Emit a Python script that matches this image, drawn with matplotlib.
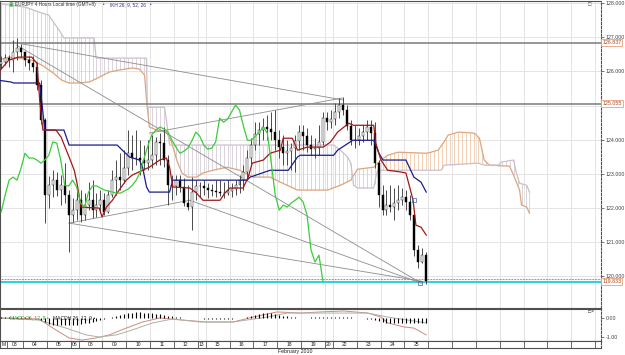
import matplotlib
matplotlib.use('Agg')
import numpy as np
import matplotlib.pyplot as plt
from matplotlib.patches import Rectangle

plt.rcParams['font.family'] = ['Liberation Sans', 'DejaVu Sans']

# ---- данные: 4-часовые бары EURJPY ----
first_open = 126.21
closes = [126.27, 126.39, 126.33, 126.56, 126.68, 126.56, 126.33, 126.24, 126.13, 125.60,
          124.57, 122.37, 122.66, 122.81, 122.52, 122.66, 122.37, 121.79, 121.93, 122.22,
          121.79, 122.08, 122.22, 121.93, 122.08, 122.22, 121.87, 122.37, 122.81, 122.90,
          122.81, 123.16, 123.60, 123.46, 123.46, 123.40, 123.31, 123.40, 123.54, 123.93,
          123.90, 123.40, 122.66, 122.64, 122.81, 122.61, 122.14, 122.02, 122.46, 122.64,
          122.64, 122.58, 122.52, 122.49, 122.46, 122.43, 122.43, 122.49, 122.55, 122.66,
          122.81, 123.05, 123.46, 123.84, 124.16, 124.28, 124.37, 124.31, 124.22, 123.98,
          123.78, 123.60, 123.66, 123.75, 123.96, 124.22, 124.10, 123.84, 123.72, 123.75,
          123.93, 124.63, 124.51, 124.60, 124.81, 125.01, 124.87, 124.39, 123.98, 123.98,
          124.10, 124.22, 124.37, 124.19, 123.31, 122.37, 121.93, 122.08, 122.02, 122.14,
          122.22, 122.31, 122.17, 121.79, 120.76, 120.41, 120.61, 119.85]
highs = [126.45, 126.51, 126.48, 126.92, 126.98, 126.80, 126.56, 126.45, 126.45, 126.27,
         125.74, 124.63, 122.93, 123.10, 123.05, 122.96, 123.31, 122.52, 122.28, 122.61,
         122.52, 122.43, 122.75, 122.81, 122.43, 122.52, 122.43, 122.52, 123.10, 123.40,
         123.60, 123.69, 124.28, 124.13, 124.28, 123.98, 123.84, 123.98, 124.13, 124.07,
         124.19, 124.37, 123.54, 122.96, 122.96, 122.96, 122.87, 122.66, 122.90, 122.81,
         122.75, 122.81, 122.72, 122.69, 122.81, 122.81, 122.75, 122.81, 122.72, 122.81,
         122.96, 123.25, 123.69, 124.04, 124.51, 124.51, 124.63, 124.72, 124.80, 124.86,
         124.28, 124.13, 123.98, 123.90, 124.13, 124.42, 124.42, 124.34, 124.13, 124.04,
         124.42, 124.80, 124.80, 124.86, 125.07, 125.22, 125.25, 125.01, 124.57, 124.42,
         124.34, 124.42, 124.57, 124.57, 124.51, 123.40, 122.66, 122.52, 122.66, 122.58,
         122.66, 122.58, 122.52, 122.37, 121.93, 120.90, 120.82, 120.70]
lows = [126.10, 126.18, 126.13, 125.98, 126.33, 126.42, 126.15, 126.04, 125.98, 125.45,
        124.45, 121.55, 121.99, 122.31, 122.34, 122.08, 122.14, 120.70, 121.58, 121.64,
        121.58, 121.64, 121.93, 121.70, 121.73, 121.84, 121.79, 121.84, 122.31, 122.37,
        122.52, 122.72, 122.96, 123.10, 123.25, 122.96, 123.10, 123.10, 123.16, 123.25,
        123.25, 123.19, 122.08, 122.22, 122.37, 122.46, 122.05, 121.93, 121.35, 122.22,
        122.31, 122.37, 122.28, 122.34, 122.31, 122.34, 122.28, 122.37, 122.31, 122.37,
        122.43, 122.52, 122.81, 123.25, 123.69, 123.84, 123.98, 123.98, 123.98, 123.69,
        123.46, 123.25, 123.25, 123.10, 123.05, 123.69, 123.69, 123.63, 123.54, 123.46,
        123.54, 123.84, 124.28, 124.34, 124.42, 124.63, 124.72, 124.28, 123.84, 123.75,
        123.84, 123.93, 123.98, 123.84, 123.16, 122.02, 121.79, 121.79, 121.87, 121.64,
        121.93, 122.08, 121.93, 121.64, 120.58, 120.23, 120.38, 119.76]

# Ишимоку: вершины линий (индекс бара, цена)
tenkan = [(-0.6, 125.98), (1.9, 126.33), (4.4, 126.42), (7.7, 126.42), (9.0, 126.24), (9.7, 125.16),
          (10.5, 124.28), (13.8, 124.28), (15.1, 124.07), (17.1, 123.49), (18.4, 123.10), (19.1, 122.72),
          (20.1, 122.02), (24.7, 121.99), (25.4, 121.73), (26.5, 122.02), (28.0, 122.22), (29.7, 122.52),
          (31.5, 122.81), (33.0, 122.96), (35.6, 123.10), (37.3, 123.19), (39.9, 123.40), (41.6, 123.46),
          (42.4, 123.19), (43.2, 122.61), (47.5, 122.58), (49.2, 122.43), (50.8, 122.22), (55.1, 122.22),
          (56.3, 122.43), (57.6, 122.58), (60.9, 122.58), (62.2, 122.90), (63.2, 123.31), (66.0, 123.40),
          (67.7, 123.60), (70.3, 123.69), (71.0, 124.04), (73.3, 124.04), (74.6, 123.69), (77.1, 123.78),
          (81.1, 123.78), (82.9, 123.93), (84.7, 124.22), (87.5, 124.48), (88.7, 124.42), (93.8, 124.42),
          (94.3, 123.90), (95.6, 123.40), (97.3, 123.10), (100.6, 123.05), (101.9, 123.02), (103.7, 122.22),
          (104.4, 121.49), (105.7, 121.43), (107.0, 121.20)]
kijun = [(-0.6, 125.74), (2.4, 125.69), (3.2, 125.66), (9.7, 125.66), (11.0, 124.28), (15.8, 124.28),
         (17.1, 123.84), (29.2, 123.84), (30.5, 123.69), (32.3, 123.49), (34.8, 123.40), (35.6, 123.19),
         (36.6, 122.61), (37.3, 122.46), (42.4, 122.46), (43.2, 122.81), (61.9, 122.81), (62.7, 122.90),
         (67.7, 123.10), (72.3, 123.10), (74.6, 123.49), (75.3, 123.54), (83.7, 123.54), (84.7, 123.69),
         (88.5, 123.98), (93.8, 123.98), (95.1, 123.60), (96.1, 123.40), (101.9, 123.40), (103.9, 122.90),
         (105.7, 122.75), (107.0, 122.46)]
senkou_a = [(-0.6, 126.33), (1.9, 126.42), (4.4, 126.39), (7.7, 126.33), (10.3, 126.18), (12.8, 125.98),
            (15.3, 125.74), (17.1, 125.66), (19.6, 125.66), (22.2, 125.69), (24.7, 125.83), (27.2, 125.98),
            (29.7, 126.04), (33.0, 126.10), (34.8, 126.07), (36.1, 125.89), (36.6, 125.16), (37.3, 124.37),
            (39.1, 124.28), (41.6, 124.22), (42.9, 123.93), (44.2, 123.40), (45.5, 123.02), (47.0, 122.90),
            (49.2, 122.90), (50.8, 123.02), (53.3, 123.10), (56.8, 123.19), (60.1, 123.10), (63.4, 122.90),
            (67.7, 122.90), (70.3, 122.75), (74.6, 122.52), (82.2, 122.52), (85.4, 122.66), (88.0, 122.81),
            (89.7, 123.13), (93.8, 123.19), (95.6, 123.40), (97.3, 123.54), (99.9, 123.63), (107.0, 123.60),
            (108.2, 123.63), (110.0, 123.69), (111.5, 123.93), (112.5, 124.13), (115.1, 124.22), (119.1, 124.19),
            (120.4, 124.04), (121.6, 123.40), (122.9, 123.25), (128.0, 123.22), (129.2, 122.90), (130.5, 122.52),
            (131.0, 122.08), (132.3, 122.02), (133.0, 121.84)]
senkou_b = [(-0.6, 127.99), (6.2, 127.88), (10.3, 127.71), (12.0, 127.65), (13.3, 127.42), (14.6, 127.21),
            (15.8, 126.98), (23.4, 126.98), (23.9, 126.39), (36.6, 126.39), (36.8, 124.95), (41.1, 124.95),
            (41.6, 124.57), (42.4, 123.84), (83.7, 123.84), (85.4, 123.69), (87.2, 123.49), (88.0, 123.31),
            (88.5, 122.90), (88.7, 122.66), (89.7, 122.58), (93.8, 122.58), (94.3, 122.90), (94.8, 123.10),
            (110.8, 123.10), (111.5, 123.25), (120.1, 123.31), (121.6, 123.25), (125.2, 123.25), (125.9, 123.34),
            (129.0, 123.40), (129.7, 123.02), (130.5, 122.72), (132.3, 122.66), (133.0, 122.46)]

# трендовые линии (индекс бара, цена)
trend_lines = [[(2.7, 126.86), (86.2, 125.16)],
               [(3.9, 126.77), (105.7, 119.79)],
               [(17.1, 121.55), (105.7, 119.85)],
               [(17.1, 121.55), (47.5, 122.22)],
               [(47.5, 122.22), (105.7, 119.79)],
               [(37.3, 124.19), (85.9, 125.22)]]
hlines = [126.837, 125.055]
bid = 119.833

# MACD
macd_hist = [0.05, 0.05, 0.05, 0.04, 0.04, 0.04, 0.03, 0.03, 0.02, 0.0,
             -0.1, -0.2, -0.3, -0.35, -0.37, -0.38, -0.38, -0.37, -0.36, -0.35,
             -0.32, -0.28, -0.24, -0.2, -0.16, -0.12, -0.06, -0.02, 0.05, 0.1,
             0.15, 0.2, 0.25, 0.28, 0.3, 0.3, 0.28, 0.26, 0.24, 0.22,
             0.2, 0.18, 0.12, 0.08, 0.05, 0.03, 0.02, 0.01, 0.0, -0.01,
             -0.02, -0.03, -0.04, -0.05, -0.05, -0.04, -0.04, -0.03, -0.03, -0.02,
             -0.01, 0.02, 0.06, 0.1, 0.15, 0.2, 0.25, 0.27, 0.25, 0.22,
             0.18, 0.12, 0.08, 0.05, 0.03, 0.02, 0.02, 0.02, 0.03, 0.04,
             0.05, 0.05, 0.04, 0.04, 0.05, 0.05, 0.04, 0.03, 0.03, 0.02,
             0.0, -0.02, -0.03, -0.05, -0.1, -0.18, -0.22, -0.25, -0.27, -0.27,
             -0.26, -0.25, -0.24, -0.24, -0.25, -0.25, -0.26, -0.27]
macd_main = [(-0.6, 0.0), (9.5, -0.05), (13.8, -0.63), (17.1, -1.05), (20.4, -1.16), (23.9, -1.05),
             (27.2, -0.89), (31.5, -0.53), (35.6, -0.21), (39.9, 0.0), (45.7, -0.11), (51.8, -0.21),
             (58.4, -0.21), (63.4, 0.05), (69.5, 0.32), (75.3, 0.26), (80.4, 0.32), (86.2, 0.37),
             (92.3, 0.26), (95.6, 0.05), (97.3, -0.26), (101.4, -0.47), (103.9, -0.53), (107.0, -0.89)]
macd_signal = [(-0.6, 0.0), (9.5, -0.11), (16.3, -0.53), (21.4, -0.89), (24.7, -1.0), (29.0, -0.89),
               (33.0, -0.63), (38.1, -0.26), (43.2, -0.05), (50.0, -0.21), (58.4, -0.21), (67.0, 0.05),
               (72.0, 0.26), (80.4, 0.26), (92.3, 0.26), (97.3, 0.05), (102.4, -0.11), (107.0, -0.26)]

# ось дат
day_labels = ['03', '04', '05', '06', '08', '09', '10', '11', '12', '13',
              '15', '16', '17', '18', '19', '20', '22', '23', '24', '25']
day_bars = [6, 6, 6, 2, 6, 6, 6, 6, 6, 2, 6, 6, 6, 6, 6, 2, 6, 6, 6, 6]
future_days = 8

# ---- построение ----
W, H = 625, 355
fig = plt.figure(figsize=(W / 100, H / 100), dpi=100)


def px_axes(x0, y0, x1, y1):
    return fig.add_axes([x0 / W, 1 - y1 / H, (x1 - x0) / W, (y1 - y0) / H])


ax = px_axes(0, 0.5, 601, 308)
ax_m = px_axes(0, 309, 601, 341)
ax_d = px_axes(0, 341, 601, 348)
XL = (-0.29, 151.0)
for a in (ax, ax_m, ax_d):
    a.set_xlim(*XL)
    a.set_xticks([])
    for s in a.spines.values():
        s.set_color('#505050')
        s.set_linewidth(0.8)
    a.spines['right'].set_linestyle((0, (2, 1.5)))

grid_c = '#e4e4e4'
starts = np.concatenate([[0], np.cumsum(day_bars + [6] * future_days)])
seps = starts[1:] - 0.5
for sx in seps:
    ax.axvline(sx, color=grid_c, lw=0.7, zorder=0)
    ax_m.axvline(sx, color=grid_c, lw=0.7, zorder=0)

ax.set_ylim(119.06, 128.08)
ticks = np.arange(120, 129)
for t in ticks:
    ax.axhline(t, color=grid_c, lw=0.7, zorder=0)
ax.yaxis.tick_right()
ax.set_yticks(ticks)
# метка 125.000 закрыта плашкой 125.055
ax.set_yticklabels(['' if t == 125 else '%.3f' % t for t in ticks])
ax.tick_params(axis='y', length=2.5, width=0.5, pad=1, labelsize=3.8, labelcolor='#404040', color='#404040')

# облако
n_all = len(closes) + 26
xs = np.arange(n_all)
ai, ap = zip(*senkou_a)
bi, bp = zip(*senkou_b)
A = np.interp(xs, ai, ap)
B = np.interp(xs, bi, bp)
for x, a_, b_ in zip(xs, A, B):
    ax.vlines(x, min(a_, b_), max(a_, b_), color='#f2c9a6' if a_ >= b_ else '#d6ccd6', lw=0.6, zorder=1)
ax.plot(ai, ap, color='#dda57c', lw=0.9, zorder=2)
ax.plot(bi, bp, color='#cbbfcd', lw=0.9, zorder=2)

# горизонтальные линии
for h in hlines:
    ax.axhline(h, color='#7a7a7a', lw=1.1, zorder=2)
ax.axhline(bid + 0.07, color='#303030', lw=0.5, ls=(0, (1, 1.2)), zorder=2)
ax.axhline(bid + 0.03, color='#35d0e0', lw=0.8, zorder=2)
ax.axhline(bid - 0.02, color='#35d0e0', lw=0.8, zorder=2)

# трендовые линии
for ln in trend_lines:
    (x0, y0), (x1, y1) = ln
    ax.plot([x0, x1], [y0, y1], color='#8c8c8c', lw=0.6, zorder=2)

# свечи
opens = [first_open] + closes[:-1]
for i, (o, h, l, c) in enumerate(zip(opens, highs, lows, closes)):
    ax.vlines(i, min(l, o, c), max(h, o, c), color='#4a4a4a', lw=0.7, zorder=3)
    bear = c < o
    ax.add_patch(Rectangle((i - 0.25, min(o, c)), 0.5, max(abs(c - o), 0.01),
                           facecolor='black' if bear else 'white', edgecolor='black',
                           lw=0.3, zorder=4))

# линии Ишимоку
ti, tp = zip(*tenkan)
ki, kp = zip(*kijun)
ax.plot(ki, kp, color='#1c1c8a', lw=0.9, zorder=5)
ax.plot(ti, tp, color='#a01818', lw=0.9, zorder=5)
ax.plot(np.arange(len(closes) - 26), closes[26:], color='#3ccc3c', lw=0.9, zorder=5)

ax.plot([103.9], [122.22], marker='s', ms=2.5, mfc='none', mec='#4060a0', mew=0.5, zorder=6)
ax.plot([105.5], [119.80], marker='s', ms=2.5, mfc='none', mec='#4060a0', mew=0.5, zorder=6)


def price_box(p):
    ax.text(1.002, p, '%.3f' % p, transform=ax.get_yaxis_transform(), fontsize=3.8,
            color='#b0461c', va='center', ha='left', clip_on=False, zorder=10,
            bbox=dict(boxstyle='square,pad=0.2', fc='white', ec='#e6a07a', lw=0.6))


for h in hlines + [bid]:
    price_box(h)

# заголовок
ty = 1 - 4.5 / H
fig.text(9 / W, ty, '\u25a3', fontsize=3.6, color='#3a9a3a', va='center', ha='left')
fig.text(15 / W, ty, 'EURJPY 4 Hours Local time (GMT+8)', fontsize=3.4, color='#303030',
         va='center', ha='left')
fig.text(103 / W, ty, '\u2022', fontsize=3.4, color='#303070', va='center', ha='left')
fig.text(110 / W, ty, 'IKH 26, 9, 52, 26', fontsize=3.4, color='#303090', va='center', ha='left')
fig.text(150 / W, ty, '\u2022', fontsize=3.4, color='#303070', va='center', ha='left')
fig.text(588 / W, 1 - 5 / H, '\u25a1', fontsize=4, color='#404040', va='center', ha='left')

# панель MACD
ax_m.set_ylim(-1.21, 0.474)
ax_m.yaxis.tick_right()
ax_m.set_yticks([0, -1])
ax_m.set_yticklabels(['0.00', '-1.00'])
ax_m.tick_params(axis='y', length=2.5, width=0.5, pad=1, labelsize=3.8, labelcolor='#404040', color='#404040')
ax_m.vlines(np.arange(len(macd_hist)), 0, macd_hist, color='black', lw=0.8, zorder=3)
mi, mp = zip(*macd_main)
si, sp = zip(*macd_signal)
ax_m.plot(mi, mp, color='#d08a80', lw=0.7, zorder=2)
ax_m.plot(si, sp, color='#a8b4a4', lw=0.7, zorder=2)
ax_m.text(0.017, 0.73, 'MACD 26, 12, 9 \u2022', transform=ax_m.transAxes, fontsize=3.6,
          color='#3a9a3a', va='center', ha='left')
ax_m.text(0.088, 0.73, 'MACDH 26, 12, 9 \u2022', transform=ax_m.transAxes, fontsize=3.6,
          color='#202020', va='center', ha='left')
ax_m.text(0.978, 0.93, '\u25a1\u00d7', transform=ax_m.transAxes, fontsize=3.8,
          color='#303030', va='center', ha='left')

# строка дат
ax_d.set_ylim(0, 1)
ax_d.set_yticks([])
ax_d.axvline(1.47, color='#505050', lw=0.6)
ax_d.text(0.0, 0.5, 'M', fontsize=3.6, va='center', ha='left', color='#202020')
for sx in seps:
    ax_d.axvline(sx, color='#505050', lw=0.6)
bounds = np.concatenate([[1.47], seps])
for k, lab in enumerate(day_labels):
    ax_d.text((bounds[k] + bounds[k + 1]) / 2, 0.5, lab, fontsize=3.6, va='center', ha='center',
              color='#202020')
fig.text(313 / W, 1 - 352 / H, 'February 2010', fontsize=3.8, color='#202020', va='center', ha='right')

fig.savefig('out.png', dpi=100)
